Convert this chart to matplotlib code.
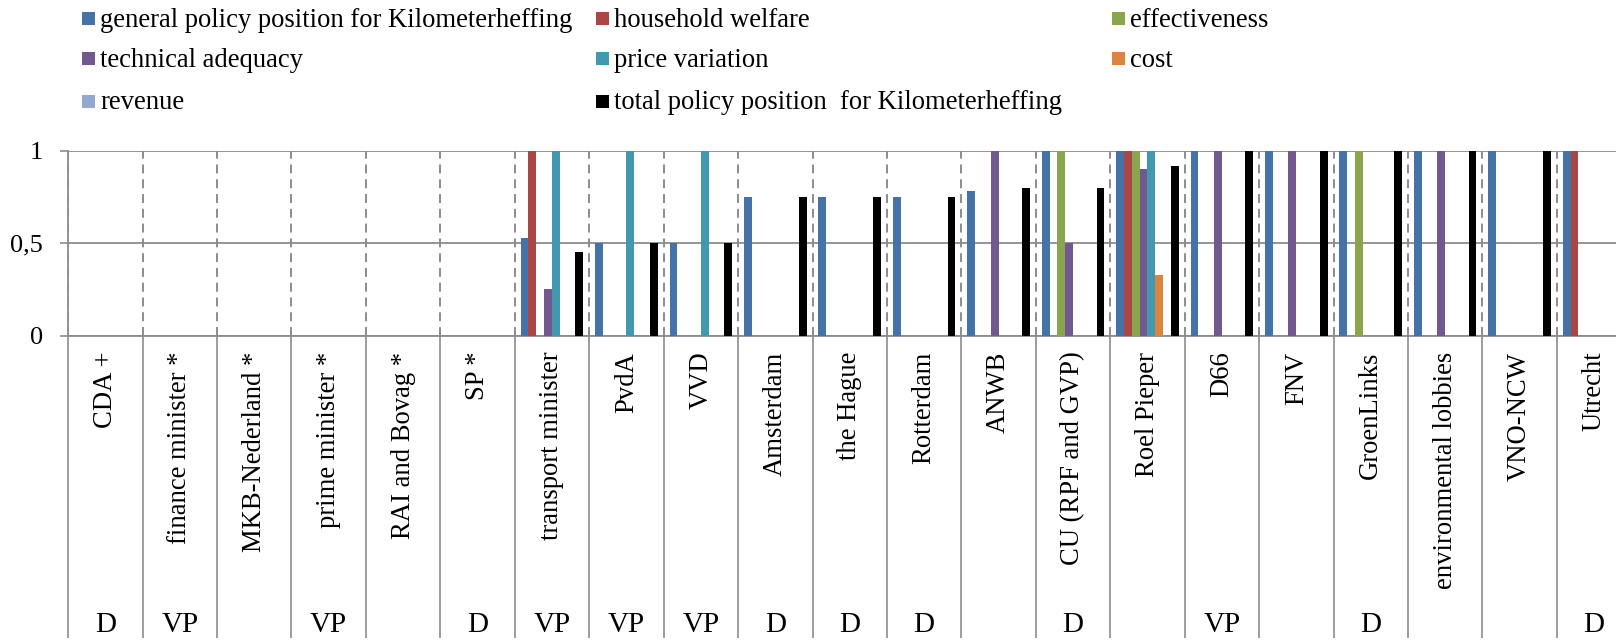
import matplotlib
matplotlib.use('Agg')
import matplotlib.pyplot as plt
import matplotlib.transforms as mtransforms
from matplotlib.patches import Rectangle
from matplotlib.ticker import FuncFormatter, FixedLocator
import numpy as np

# ---- data ----
categories = ['CDA +', 'finance minister *', 'MKB-Nederland *', 'prime minister *',
              'RAI and Bovag *', 'SP *', 'transport minister', 'PvdA', 'VVD',
              'Amsterdam', 'the Hague', 'Rotterdam', 'ANWB', 'CU (RPF and GVP)',
              'Roel Pieper', 'D66', 'FNV', 'GroenLinks', 'environmental lobbies',
              'VNO-NCW', 'Utrecht']
roles = ['D', 'VP', '', 'VP', '', 'D', 'VP', 'VP', 'VP', 'D', 'D', 'D', '', 'D',
         '', 'VP', '', 'D', '', '', 'D']

general = [0, 0, 0, 0, 0, 0, 0.53, 0.5, 0.5, 0.75, 0.75, 0.75, 0.78, 1, 1, 1, 1, 1, 1, 1, 1]
household = [0, 0, 0, 0, 0, 0, 1, 0, 0, 0, 0, 0, 0, 0, 1, 0, 0, 0, 0, 0, 1]
effectiveness = [0, 0, 0, 0, 0, 0, 0, 0, 0, 0, 0, 0, 0, 1, 1, 0, 0, 1, 0, 0, 0]
technical = [0, 0, 0, 0, 0, 0, 0.25, 0, 0, 0, 0, 0, 1, 0.5, 0.9, 1, 1, 0, 1, 0, 0]
price = [0, 0, 0, 0, 0, 0, 1, 1, 1, 0, 0, 0, 0, 0, 1, 0, 0, 0, 0, 0, 0]
cost = [0, 0, 0, 0, 0, 0, 0, 0, 0, 0, 0, 0, 0, 0, 0.33, 0, 0, 0, 0, 0, 0]
revenue = [0, 0, 0, 0, 0, 0, 0, 0, 0, 0, 0, 0, 0, 0, 0, 0, 0, 0, 0, 0, 0]
total = [0, 0, 0, 0, 0, 0, 0.45, 0.5, 0.5, 0.75, 0.75, 0.75, 0.8, 0.8, 0.92, 1, 1, 1, 1, 1, 1]

series_names = ['general policy position for Kilometerheffing', 'household welfare',
                'effectiveness', 'technical adequacy', 'price variation', 'cost',
                'revenue', 'total policy position  for Kilometerheffing']
series_values = [general, household, effectiveness, technical, price, cost, revenue, total]
colors = ['#4572A7', '#AA4643', '#89A54E', '#71588F', '#4198AF', '#DB843D',
          '#93A9CF', '#000000']

# ---- figure geometry (pixels) ----
W, H = 1616, 641
plt.rcParams['font.family'] = ['Liberation Serif', 'DejaVu Serif']
fig = plt.figure(figsize=(W / 100, H / 100), dpi=100)

x_left, cat_w = 68.2, 74.43
y_zero, y_one = 335.7, 150.7
n = len(categories)
ax = fig.add_axes([x_left / W, (H - y_zero) / H, n * cat_w / W, (y_zero - y_one) / H])

grid_col = '#8c8c8c'
x = np.arange(n)
bar_w = 1 / 9.5  # excel gap width 150%
for i, (vals, c) in enumerate(zip(series_values, colors)):
    ax.bar(x + 0.5 + (i - 3.5) * bar_w, vals, width=bar_w, color=c, linewidth=0, zorder=3)

ax.set_xlim(0, n)
ax.set_ylim(0, 1)

# y axis
ax.set_yticks([0, 0.5, 1])
ax.yaxis.set_major_formatter(FuncFormatter(lambda v, p: ('%g' % v).replace('.', ',')))
ax.tick_params(axis='y', direction='out', length=6, width=1.2, color=grid_col,
               labelsize=19, pad=12)
ax.grid(axis='y', color=grid_col, linewidth=1.3, zorder=0)

# x axis: labels at centres, long boundary ticks, dashed gridlines
ax.xaxis.set_major_locator(FixedLocator(x + 0.5))
ax.set_xticklabels(categories, rotation=90, fontsize=19.2)
ax.tick_params(axis='x', which='major', length=0, pad=11.5)
ax.xaxis.set_minor_locator(FixedLocator(np.arange(n + 1)))
ax.tick_params(axis='x', which='minor', direction='out', length=(638 - y_zero) * 0.72,
               width=1.2, color=grid_col)
ax.grid(axis='x', which='minor', color=grid_col, linewidth=1.4,
        linestyle=(0, (4.6, 3.0)), zorder=0)
ax.set_axisbelow(True)

for s in ['top', 'right']:
    ax.spines[s].set_visible(False)
for s in ['left', 'bottom']:
    ax.spines[s].set_color(grid_col)
    ax.spines[s].set_linewidth(1.3)

# second level category labels
trans = mtransforms.blended_transform_factory(ax.transData, fig.transFigure)
for i, r in enumerate(roles):
    if r:
        ax.text(i + 0.5, (H - 632) / H, r, transform=trans, ha='center', va='baseline',
                fontsize=21)

# legend laid out like the excel one (3 equal columns)
col_x = [82.3, 596, 1112]
row_y = [18.3, 58.7, 101]
box = 13
for i, (name, c) in enumerate(zip(series_names, colors)):
    cx, cy = col_x[i % 3], row_y[i // 3]
    fig.add_artist(Rectangle((cx / W, (H - cy - box / 2) / H), box / W, box / H,
                             transform=fig.transFigure, facecolor=c, edgecolor='none'))
    fig.text((cx + 18) / W, (H - cy - 8.4) / H, name, ha='left', va='baseline',
             fontsize=19.2)

fig.savefig('out.png', dpi=100, facecolor='white')
